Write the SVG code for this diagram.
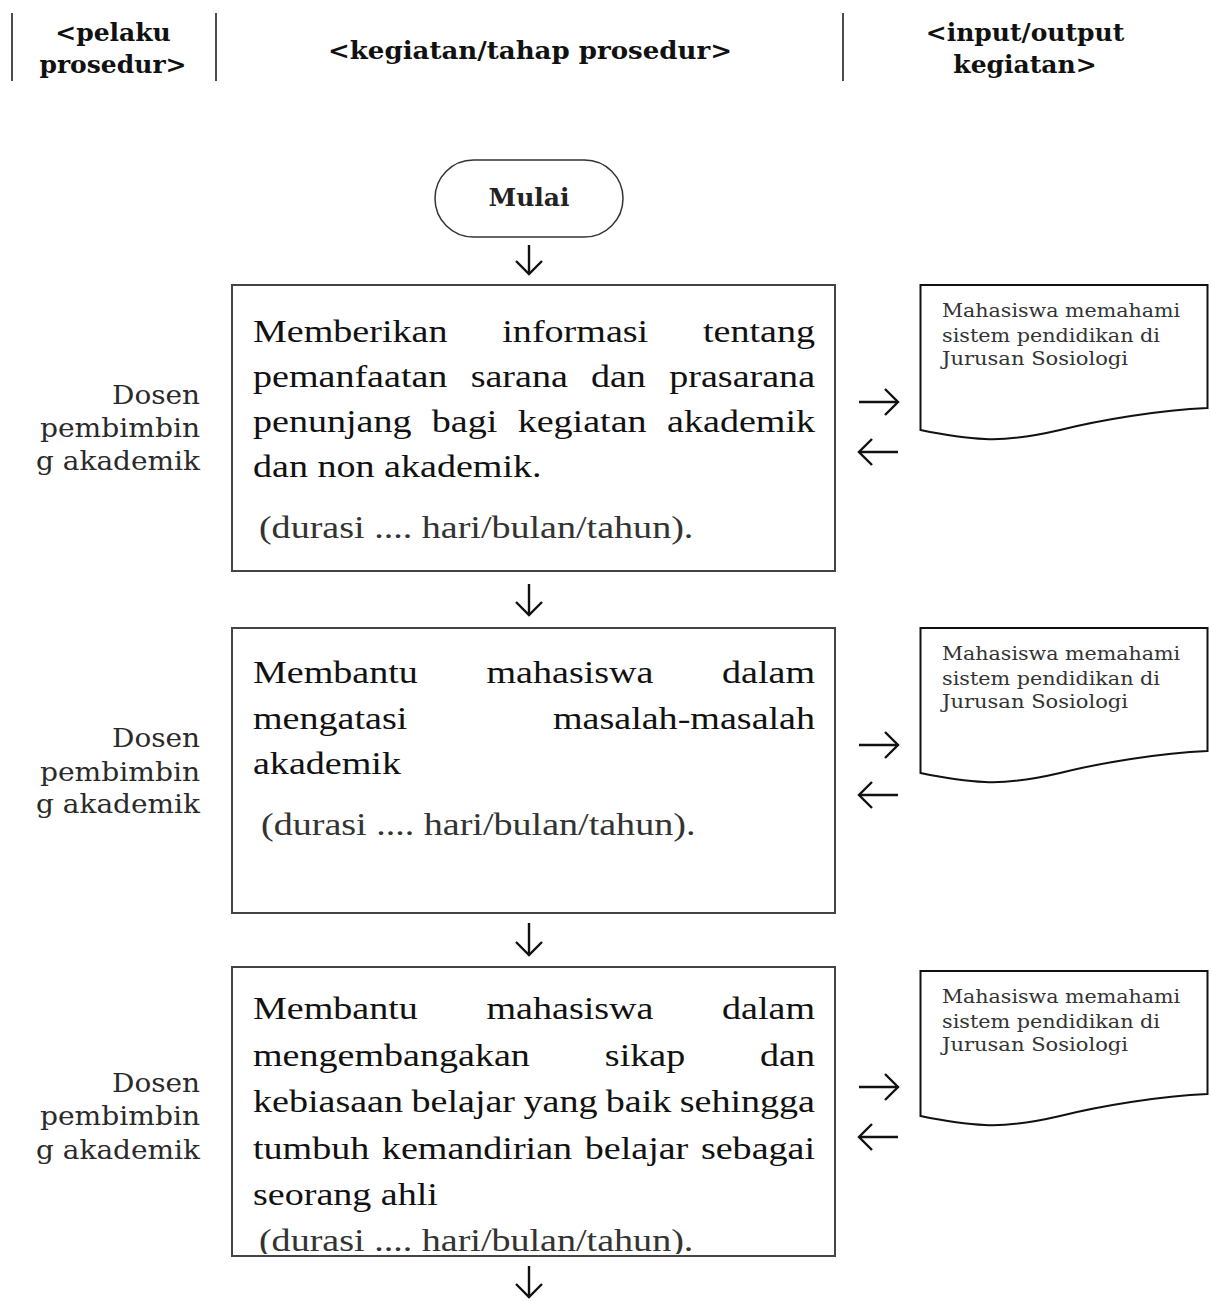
<svg xmlns="http://www.w3.org/2000/svg" width="1211" height="1301" viewBox="0 0 1211 1301">
<style>
  .hdr { font-family: "DejaVu Serif", "Liberation Serif", serif; font-weight: bold; font-size: 25px; fill: #111; text-anchor: middle; }
  .sep { stroke: #111; stroke-width: 1.5; }
  .box { fill: #fff; stroke: #444; stroke-width: 2; }
  .term { fill: #fff; stroke: #333; stroke-width: 1.5; }
  .termtxt { font-family: "DejaVu Serif", "Liberation Serif", serif; font-weight: bold; font-size: 25px; fill: #222; text-anchor: middle; }
  .body { font-family: "Liberation Serif", "Times New Roman", serif; font-size: 32px; fill: #111; }
  .dur { fill: #333; }
  .end { text-anchor: end; }
  .actor { font-family: "DejaVu Serif", "Liberation Serif", serif; font-size: 26px; fill: #2a2a2a; }
  .doc { fill: #fff; stroke: #111; stroke-width: 2; }
  .doctxt { font-family: "DejaVu Serif", "Liberation Serif", serif; font-size: 18px; fill: #333; }
  .conn { fill: none; stroke: #111; stroke-width: 2.4; marker-end: url(#arr); }
</style>
<defs>
  <marker id="arr" markerUnits="userSpaceOnUse" viewBox="-16 -16 32 32" markerWidth="32" markerHeight="32" refX="0" refY="0" orient="auto">
    <path d="M-13,-13 L0,0 L-13,13" fill="none" stroke="#111" stroke-width="2.4"/>
  </marker>
  <clipPath id="clip3" clipPathUnits="userSpaceOnUse">
    <rect x="0" y="960" width="1000" height="294"/>
  </clipPath>
</defs>
<rect x="0" y="0" width="1211" height="1301" fill="#fff"/>

<g id="header">
  <line class="sep" x1="12" y1="13" x2="12" y2="81"/>
  <line class="sep" x1="216" y1="13" x2="216" y2="81"/>
  <line class="sep" x1="843" y1="13" x2="843" y2="81"/>
  <text class="hdr" x="113" y="41">&lt;pelaku</text>
  <text class="hdr" x="113" y="73">prosedur&gt;</text>
  <text class="hdr" x="530" y="59" textLength="404" lengthAdjust="spacingAndGlyphs">&lt;kegiatan/tahap prosedur&gt;</text>
  <text class="hdr" x="1025" y="41">&lt;input/output</text>
  <text class="hdr" x="1025" y="73">kegiatan&gt;</text>
</g>

<g id="start">
  <rect class="term" x="435" y="160" width="188" height="77" rx="38.5" ry="38.5"/>
  <text class="termtxt" x="529" y="206">Mulai</text>
</g>

<g id="actor1">
  <text class="actor" x="112" y="404" textLength="88" lengthAdjust="spacingAndGlyphs">Dosen</text>
  <text class="actor" x="40" y="437" textLength="160" lengthAdjust="spacingAndGlyphs">pembimbin</text>
  <text class="actor" x="36" y="470" textLength="164" lengthAdjust="spacingAndGlyphs">g akademik</text>
</g>
<g id="actor2">
  <text class="actor" x="112" y="747" textLength="88" lengthAdjust="spacingAndGlyphs">Dosen</text>
  <text class="actor" x="40" y="781" textLength="160" lengthAdjust="spacingAndGlyphs">pembimbin</text>
  <text class="actor" x="36" y="813" textLength="164" lengthAdjust="spacingAndGlyphs">g akademik</text>
</g>
<g id="actor3">
  <text class="actor" x="112" y="1092" textLength="88" lengthAdjust="spacingAndGlyphs">Dosen</text>
  <text class="actor" x="40" y="1125" textLength="160" lengthAdjust="spacingAndGlyphs">pembimbin</text>
  <text class="actor" x="36" y="1159" textLength="164" lengthAdjust="spacingAndGlyphs">g akademik</text>
</g>

<g id="step1">
  <rect class="box" x="232" y="285" width="603" height="286"/>
  <g class="body" transform="scale(1.19 1)">
    <text x="212.6" y="342">Memberikan</text>
    <text x="422.1" y="342">informasi</text>
    <text class="end" x="684.9" y="342">tentang</text>
    <text x="212.6" y="387">pemanfaatan</text>
    <text x="395.5" y="387">sarana</text>
    <text x="496.6" y="387">dan</text>
    <text class="end" x="684.9" y="387">prasarana</text>
    <text x="212.6" y="432">penunjang</text>
    <text x="362.9" y="432">bagi</text>
    <text x="435" y="432">kegiatan</text>
    <text class="end" x="684.9" y="432">akademik</text>
    <text x="212.6" y="477">dan non akademik.</text>
    <text class="dur" x="217.6" y="538">(durasi .... hari/bulan/tahun).</text>
  </g>
</g>

<g id="step2">
  <rect class="box" x="232" y="628" width="603" height="285"/>
  <g class="body" transform="scale(1.19 1)">
    <text x="212.6" y="683">Membantu</text>
    <text x="408.8" y="683">mahasiswa</text>
    <text class="end" x="684.9" y="683">dalam</text>
    <text x="212.6" y="729">mengatasi</text>
    <text class="end" x="684.9" y="729">masalah-masalah</text>
    <text x="212.6" y="774">akademik</text>
    <text class="dur" x="219.3" y="835">(durasi .... hari/bulan/tahun).</text>
  </g>
</g>

<g id="step3">
  <rect class="box" x="232" y="967" width="603" height="289"/>
  <g class="body" transform="scale(1.19 1)">
    <text x="212.6" y="1019">Membantu</text>
    <text x="408.8" y="1019">mahasiswa</text>
    <text class="end" x="684.9" y="1019">dalam</text>
    <text x="212.6" y="1066">mengembangakan</text>
    <text x="508.3" y="1066">sikap</text>
    <text class="end" x="684.9" y="1066">dan</text>
    <text x="212.6" y="1112">kebiasaan</text>
    <text x="345.8" y="1112">belajar</text>
    <text x="439.9" y="1112">yang</text>
    <text x="509.1" y="1112">baik</text>
    <text class="end" x="684.9" y="1112">sehingga</text>
    <text x="212.6" y="1159">tumbuh</text>
    <text x="320.9" y="1159">kemandirian</text>
    <text x="491.4" y="1159">belajar</text>
    <text class="end" x="684.9" y="1159">sebagai</text>
    <text x="212.6" y="1205">seorang ahli</text>
    <text class="dur" x="217.6" y="1251" clip-path="url(#clip3)">(durasi .... hari/bulan/tahun).</text>
  </g>
</g>

<g id="doc1">
  <path class="doc" d="M920.5,285 H1207.5 V408 C1160,410 1100,420 1060,430 C1030,437 1005,440 985,439 C960,438 940,434 920.5,430 Z"/>
  <text class="doctxt" x="942" y="316.5" textLength="238" lengthAdjust="spacingAndGlyphs">Mahasiswa memahami</text>
  <text class="doctxt" x="942" y="341.5" textLength="218" lengthAdjust="spacingAndGlyphs">sistem pendidikan di</text>
  <text class="doctxt" x="942" y="365" textLength="186" lengthAdjust="spacingAndGlyphs">Jurusan Sosiologi</text>
</g>
<g id="doc2">
  <path class="doc" d="M920.5,628 H1207.5 V751 C1160,753 1100,763 1060,773 C1030,780 1005,783 985,782 C960,781 940,777 920.5,773 Z"/>
  <text class="doctxt" x="942" y="659.5" textLength="238" lengthAdjust="spacingAndGlyphs">Mahasiswa memahami</text>
  <text class="doctxt" x="942" y="684.5" textLength="218" lengthAdjust="spacingAndGlyphs">sistem pendidikan di</text>
  <text class="doctxt" x="942" y="708" textLength="186" lengthAdjust="spacingAndGlyphs">Jurusan Sosiologi</text>
</g>
<g id="doc3">
  <path class="doc" d="M920.5,971 H1207.5 V1094 C1160,1096 1100,1106 1060,1116 C1030,1123 1005,1126 985,1125 C960,1124 940,1120 920.5,1116 Z"/>
  <text class="doctxt" x="942" y="1002.5" textLength="238" lengthAdjust="spacingAndGlyphs">Mahasiswa memahami</text>
  <text class="doctxt" x="942" y="1027.5" textLength="218" lengthAdjust="spacingAndGlyphs">sistem pendidikan di</text>
  <text class="doctxt" x="942" y="1051" textLength="186" lengthAdjust="spacingAndGlyphs">Jurusan Sosiologi</text>
</g>

<g id="connectors">
  <path class="conn" d="M529,245 V274"/>
  <path class="conn" d="M529,584 V615"/>
  <path class="conn" d="M529,923 V955"/>
  <path class="conn" d="M529,1266 V1297"/>
  <path class="conn" d="M859,402 H898"/>
  <path class="conn" d="M898,452 H859"/>
  <path class="conn" d="M859,745 H898"/>
  <path class="conn" d="M898,795 H859"/>
  <path class="conn" d="M859,1087 H898"/>
  <path class="conn" d="M898,1137 H859"/>
</g>
</svg>
